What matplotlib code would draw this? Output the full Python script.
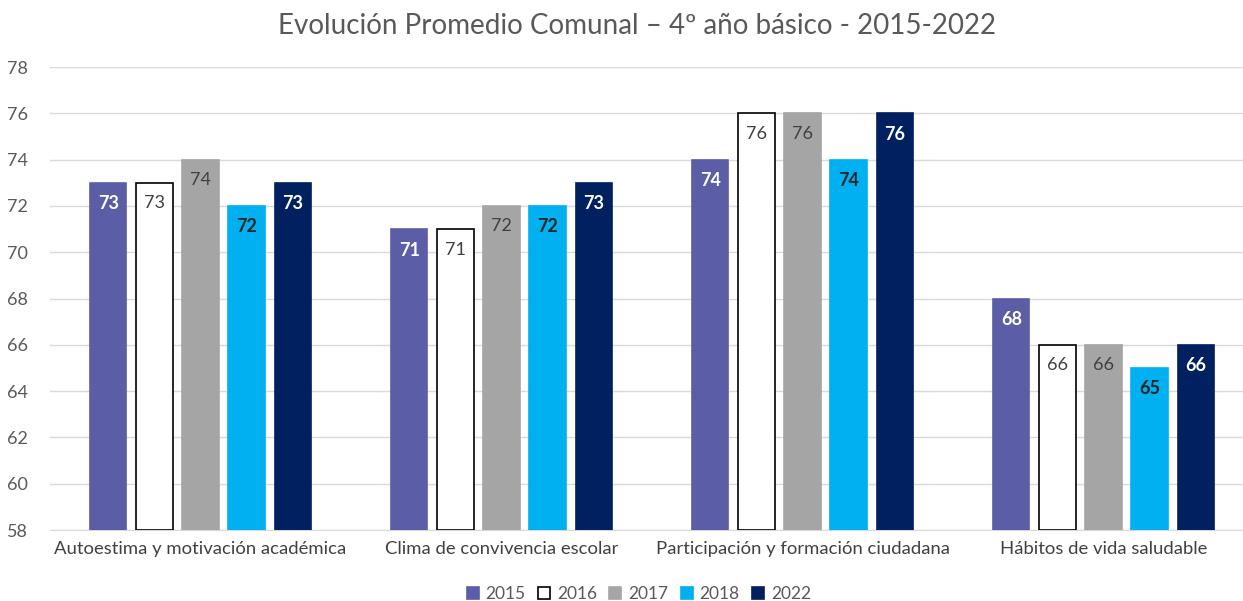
import matplotlib
matplotlib.use("Agg")
import matplotlib.pyplot as plt
import numpy as np

plt.rcParams["font.family"] = ["Lato", "DejaVu Sans"]

categorias = ["Autoestima y motivación académica", "Clima de convivencia escolar",
              "Participación y formación ciudadana", "Hábitos de vida saludable"]
anios = ["2015", "2016", "2017", "2018", "2022"]
v2015 = [73, 71, 74, 68]
v2016 = [73, 71, 76, 66]
v2017 = [74, 72, 76, 66]
v2018 = [72, 72, 74, 65]
v2022 = [73, 73, 76, 66]
series = [v2015, v2016, v2017, v2018, v2022]

colores = ["#5B5EA6", "#FFFFFF", "#A5A5A5", "#00B0F0", "#002060"]
bordes = ["#5B5EA6", "#000000", "#A5A5A5", "#00B0F0", "#002060"]
col_txt = ["white", "#404040", "#404040", "#262626", "white"]
peso_txt = ["bold", "normal", "normal", "bold", "bold"]

fig = plt.figure(figsize=(12.43, 6.01), dpi=100)
ax = fig.add_axes([50 / 1243, 0.1181, 1204 / 1243, 0.7704])

x = np.arange(len(categorias))
ancho = 0.12
paso = 0.153
for i, (anio, vals) in enumerate(zip(anios, series)):
    pos = x + (i - 2) * paso
    ax.bar(pos, [v - 58 for v in vals], bottom=58, width=ancho, color=colores[i],
           edgecolor=bordes[i], linewidth=1.2, label=anio, zorder=3)
    for p, v in zip(pos, vals):
        ax.annotate(str(v), (p, v), xytext=(0, -9), textcoords="offset points",
                    ha="center", va="top", fontsize=13, color=col_txt[i],
                    fontweight=peso_txt[i], zorder=4)

ax.set_ylim(58, 78)
ax.set_yticks(range(58, 79, 2))
ax.set_xlim(-0.5, 3.5)
ax.set_xticks(x)
ax.set_xticklabels(categorias, fontsize=13.3, color="#404040")
ax.tick_params(axis="y", labelsize=13, labelcolor="#595959", length=0, pad=16)
ax.tick_params(axis="x", length=0, pad=8)
ax.grid(axis="y", color="#D9D9D9", linewidth=1, zorder=0)
for s in ax.spines.values():
    s.set_visible(False)
ax.spines["bottom"].set_visible(True)
ax.spines["bottom"].set_color("#D9D9D9")

fig.suptitle("Evolución Promedio Comunal – 4º año básico - 2015-2022", x=0.5125, y=0.978,
             fontsize=20, color="#595959")
ax.legend(loc="lower center", bbox_to_anchor=(0.489, -0.19), ncol=5, frameon=False,
          fontsize=12.5, handlelength=0.7, handleheight=0.7, columnspacing=0.7,
          handletextpad=0.4, labelcolor="#595959")

fig.savefig("out.png", dpi=100)
